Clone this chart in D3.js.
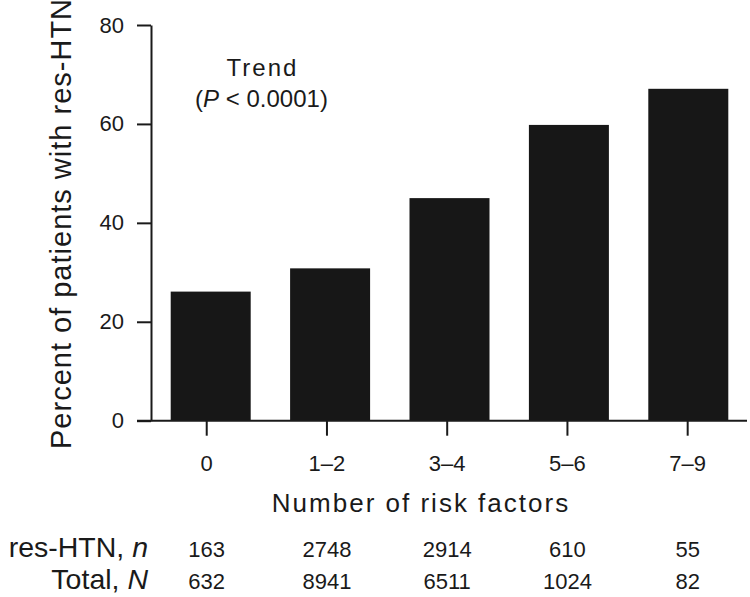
<!DOCTYPE html>
<html>
<head>
<meta charset="utf-8">
<script src="https://cdn.jsdelivr.net/npm/d3@7"></script>
<style>
  html, body { margin: 0; padding: 0; background: #fff; }
  svg { display: block; }
  text { font-family: "Liberation Sans", Arial, sans-serif; fill: #1a1a1a; }
</style>
</head>
<body>
<svg id="chart" width="750" height="597"></svg>
<script>
const categories = ["0", "1\u20132", "3\u20134", "5\u20136", "7\u20139"];
const percentValues = [26.1, 30.8, 45.0, 59.8, 67.1];
const resHtnN = [163, 2748, 2914, 610, 55];
const totalN = [632, 8941, 6511, 1024, 82];
const yTicks = [0, 20, 40, 60, 80];

const svg = d3.select("#chart");
const plotLeft = 151, plotRight = 748, plotTop = 25, plotBottom = 420.7;

// bars
const x = d3.scaleBand().domain(categories).range([plotLeft, plotRight])
  .paddingInner(0.33).paddingOuter(0.165);
// tick / label positions (slightly offset from bars in the original)
const xt = d3.scaleBand().domain(categories).range([146.6, 747.8])
  .paddingInner(0.33).paddingOuter(0.165);
const y = d3.scaleLinear().domain([0, 80]).range([plotBottom, plotTop]);

svg.append("g").selectAll("rect").data(categories).join("rect")
  .attr("x", d => x(d))
  .attr("width", x.bandwidth())
  .attr("y", (d, i) => y(percentValues[i]))
  .attr("height", (d, i) => y(0) - y(percentValues[i]))
  .attr("fill", "#171717");

// y axis
const yAxis = svg.append("g").attr("transform", `translate(${plotLeft},0)`)
  .call(d3.axisLeft(y).tickValues(yTicks).tickSize(14).tickSizeOuter(0).tickPadding(13));
yAxis.select(".domain").attr("stroke", "#1a1a1a").attr("stroke-width", 2);
yAxis.selectAll(".tick line").attr("stroke", "#1a1a1a").attr("stroke-width", 2);
yAxis.selectAll(".tick text").style("font-size", "22px")
  .style("font-family", "'Liberation Sans', Arial, sans-serif").attr("fill", "#1a1a1a");

// x axis
const xAxis = svg.append("g").attr("transform", `translate(0,${plotBottom})`)
  .call(d3.axisBottom(xt).tickSize(15).tickSizeOuter(0).tickPadding(20));
xAxis.select(".domain").attr("d", `M${plotLeft - 14},0H${747}`)
  .attr("stroke", "#1a1a1a").attr("stroke-width", 2);
xAxis.selectAll(".tick line").attr("stroke", "#1a1a1a").attr("stroke-width", 2);
xAxis.selectAll(".tick text").style("font-size", "22px")
  .style("font-family", "'Liberation Sans', Arial, sans-serif").attr("fill", "#1a1a1a");

// y title
svg.append("text")
  .attr("transform", `translate(70.5,449) rotate(-90)`)
  .attr("text-anchor", "start")
  .style("font-size", "29px")
  .style("letter-spacing", "1px")
  .text("Percent of patients with res-HTN");

// x title
svg.append("text")
  .attr("x", 421).attr("y", 511.7)
  .attr("text-anchor", "middle")
  .style("font-size", "26px")
  .style("letter-spacing", "2px")
  .text("Number of risk factors");

// trend annotation
svg.append("text").attr("x", 262.5).attr("y", 75.7).attr("text-anchor", "middle")
  .style("font-size", "24px").style("letter-spacing", "2px").text("Trend");
const t2 = svg.append("text").attr("x", 261.5).attr("y", 107).attr("text-anchor", "middle")
  .style("font-size", "24px");
t2.append("tspan").text("(");
t2.append("tspan").style("font-style", "italic").text("P");
t2.append("tspan").text(" < 0.0001)");

// table rows
const rowLabels = [["res-HTN, ", "n"], ["Total, ", "N"]];
const rowData = [resHtnN, totalN];
const rowY = [557, 588.5];
rowLabels.forEach((lab, r) => {
  const t = svg.append("text").attr("x", 148).attr("y", rowY[r])
    .attr("text-anchor", "end").style("font-size", "28.5px");
  t.append("tspan").text(lab[0]);
  t.append("tspan").style("font-style", "italic").text(lab[1]);
  svg.append("g").selectAll("text").data(rowData[r]).join("text")
    .attr("x", (d, i) => xt(categories[i]) + xt.bandwidth() / 2)
    .attr("y", rowY[r])
    .attr("text-anchor", "middle")
    .style("font-size", "22px")
    .text(d => d);
});
</script>
</body>
</html>
